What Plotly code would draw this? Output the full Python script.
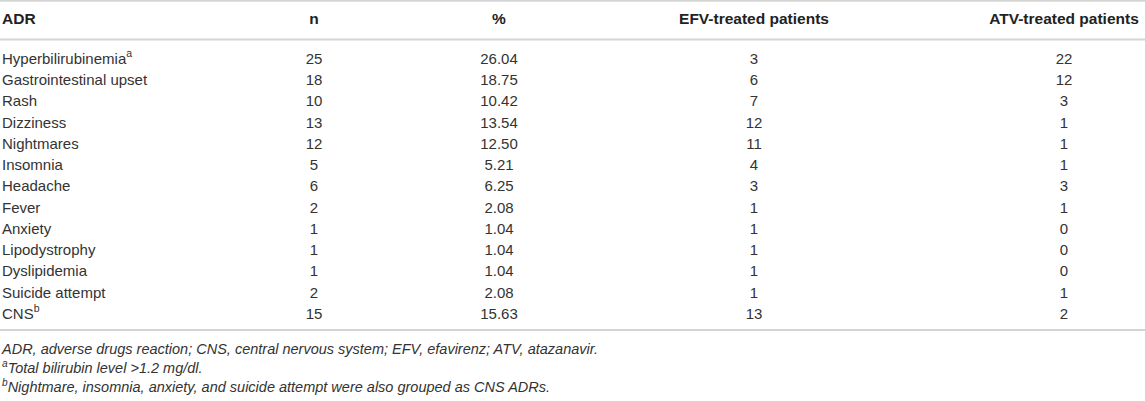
import plotly.graph_objects as go

# table data
headers = ["ADR", "n", "%", "EFV-treated patients", "ATV-treated patients"]
adr = ["Hyperbilirubinemia<sup>a</sup>", "Gastrointestinal upset", "Rash", "Dizziness",
       "Nightmares", "Insomnia", "Headache", "Fever", "Anxiety", "Lipodystrophy",
       "Dyslipidemia", "Suicide attempt", "CNS<sup>b</sup>"]
n = [25, 18, 10, 13, 12, 5, 6, 2, 1, 1, 1, 2, 15]
pct = ["26.04", "18.75", "10.42", "13.54", "12.50", "5.21", "6.25", "2.08",
       "1.04", "1.04", "1.04", "2.08", "15.63"]
efv = [3, 6, 7, 12, 11, 4, 3, 1, 1, 1, 1, 1, 13]
atv = [22, 12, 3, 1, 1, 1, 3, 1, 0, 0, 0, 1, 2]
notes = ["ADR, adverse drugs reaction; CNS, central nervous system; EFV, efavirenz; ATV, atazanavir.",
         "<sup>a</sup>Total bilirubin level >1.2 mg/dl.",
         "<sup>b</sup>Nightmare, insomnia, anxiety, and suicide attempt were also grouped as CNS ADRs."]

W, H = 1145, 401
col_x = [2, 314, 499, 754, 1064]
head_y = 20.5
row0, step = 60, 21.25
rows_y = [row0 + i * step for i in range(len(adr))]
note_y = [350, 369, 388]

font = "Liberation Sans, Arial, sans-serif"
txt = "#333333"
fs = 15

fig = go.Figure()

# header
fig.add_trace(go.Scatter(x=[col_x[0]], y=[head_y], mode="text", text=["<b>" + headers[0] + "</b>"],
                         textposition="middle right", textfont=dict(family=font, size=15.5, color="#222")))
fig.add_trace(go.Scatter(x=col_x[1:], y=[head_y] * 4, mode="text",
                         text=["<b>" + h + "</b>" for h in headers[1:]],
                         textposition="middle center", textfont=dict(family=font, size=15.5, color="#222")))

# body
fig.add_trace(go.Scatter(x=[col_x[0]] * len(adr), y=rows_y, mode="text", text=adr,
                         textposition="middle right", textfont=dict(family=font, size=fs, color=txt)))
for cx, vals in zip(col_x[1:], [n, pct, efv, atv]):
    fig.add_trace(go.Scatter(x=[cx] * len(vals), y=rows_y, mode="text", text=[str(v) for v in vals],
                             textposition="middle center", textfont=dict(family=font, size=fs, color=txt)))

# footnotes
fig.add_trace(go.Scatter(x=[col_x[0]] * 3, y=note_y, mode="text", text=["<i>" + s + "</i>" for s in notes],
                         textposition="middle right", textfont=dict(family=font, size=14.5, color=txt)))

for yy in [0.8, 39.5, 330]:
    fig.add_shape(type="line", x0=0, x1=W, y0=yy, y1=yy, line=dict(color="#d4d4d4", width=2))

fig.update_layout(width=W, height=H, margin=dict(l=0, r=0, t=0, b=0),
                  plot_bgcolor="white", paper_bgcolor="white", showlegend=False,
                  xaxis=dict(range=[0, W], visible=False, fixedrange=True),
                  yaxis=dict(range=[H, 0], visible=False, fixedrange=True))

fig.write_html("out.html", config={"displayModeBar": False},
               post_script="document.body.style.margin='0';document.body.style.overflow='hidden';")
